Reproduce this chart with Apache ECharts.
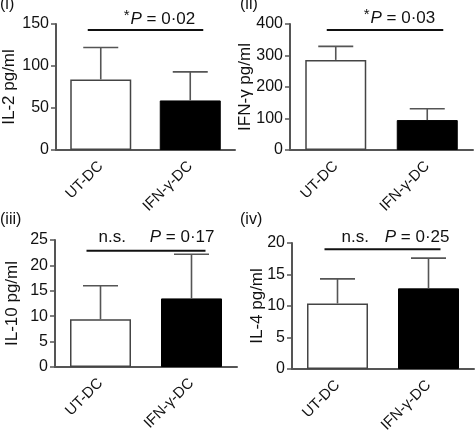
<!DOCTYPE html>
<html>
<head>
<meta charset="utf-8">
<script src="https://cdn.jsdelivr.net/npm/echarts@6/dist/echarts.min.js"></script>
<style>html,body{margin:0;padding:0;background:#fff}#c{width:475px;height:433px}</style>
</head>
<body>
<div id="c"></div>
<script>
// ---- data ----
const categories = ['UT-DC', 'IFN-γ-DC'];
const panelTags = ['(i)', '(ii)', '(iii)', '(iv)'];
const yNames = ['IL-2 pg/ml', 'IFN-γ pg/ml', 'IL-10 pg/ml', 'IL-4 pg/ml'];
const il2Means = [84, 59];
const il2Err = [38, 34];
const ifngMeans = [286, 95];
const ifngErr = [43, 36];
const il10Means = [9.4, 13.5];
const il10Err = [6.6, 8.7];
const il4Means = [10.4, 12.8];
const il4Err = [3.9, 4.8];
const yMax = [150, 400, 25, 20];
const yInterval = [50, 100, 5, 5];
const pValues = ['0·02', '0·03', '0·17', '0·25'];
const significant = [true, true, false, false];
const sigLineY = [143, 381, 22.9, 19.0];

const means = [il2Means, ifngMeans, il10Means, il4Means];
const errs = [il2Err, ifngErr, il10Err, il4Err];

// ---- layout ----
const FONT = '"Liberation Sans", Arial, Helvetica, sans-serif';
const grids = [
  {left: 56, top: 24, width: 179, height: 126},
  {left: 290, top: 24, width: 183, height: 126},
  {left: 55, top: 240, width: 182, height: 127},
  {left: 292, top: 243, width: 182, height: 126}
];
const nameGaps = [38, 36, 34, 26];
const tagPos = [[0, -3], [240, -3], [0, 212], [240, 212]];
const sigLayout = [
  {l: -13, r: 13, pRight: -8, nsLeft: 0, dy: -11},
  {l: -9, r: 16, pRight: -8, nsLeft: 0, dy: -12},
  {l: -14, r: 14, pRight: 9, nsLeft: 12, dy: -13},
  {l: -13, r: 12, pRight: 9, nsLeft: 17, dy: -12}
];
const AXIS = '#555';

const option = {
  animation: false,
  backgroundColor: '#fff',
  textStyle: {fontFamily: FONT},
  title: panelTags.map((t, i) => ({
    text: t, left: tagPos[i][0], top: tagPos[i][1], padding: 0,
    textStyle: {fontSize: 16, fontWeight: 'normal', color: '#111', fontFamily: FONT}
  })),
  grid: grids.map(g => Object.assign({containLabel: false, outerBoundsMode: 'none'}, g)),
  xAxis: grids.map((g, i) => ({
    type: 'category', gridIndex: i, data: categories,
    axisLine: {lineStyle: {color: AXIS, width: 2}},
    axisTick: {show: false},
    axisLabel: {rotate: 45, fontSize: 15, color: '#111', margin: 14, fontFamily: FONT, interval: 0}
  })),
  yAxis: grids.map((g, i) => ({
    type: 'value', gridIndex: i, min: 0, max: yMax[i], interval: yInterval[i],
    name: yNames[i], nameLocation: 'middle', nameGap: nameGaps[i], nameRotate: 90,
    nameMoveOverlap: false,
    nameTextStyle: {fontSize: 17, color: '#111', fontFamily: FONT},
    axisLine: {show: true, lineStyle: {color: AXIS, width: 2}},
    axisTick: {show: true, length: 5, lineStyle: {color: AXIS, width: 1.5}},
    axisLabel: {fontSize: 16, color: '#111', margin: 7, fontFamily: FONT},
    splitLine: {show: false}
  })),
  series: []
};

for (let i = 0; i < 4; i++) {
  option.series.push({
    type: 'bar', xAxisIndex: i, yAxisIndex: i, barWidth: 61, silent: true,
    data: [
      {value: means[i][0], itemStyle: {color: '#fff', borderColor: '#444', borderWidth: 1.5}},
      {value: means[i][1], itemStyle: {color: '#000', borderColor: '#000', borderWidth: 1}}
    ],
    z: 2
  });
  option.series.push({
    type: 'custom', xAxisIndex: i, yAxisIndex: i, silent: true, z: 3,
    data: means[i].map((m, k) => [k, m, m + errs[i][k]]),
    encode: {x: 0, y: [1, 2]},
    renderItem: function (params, api) {
      const x = api.value(0);
      const p0 = api.coord([x, api.value(1)]);
      const p1 = api.coord([x, api.value(2)]);
      const st = {stroke: '#555', lineWidth: 1.6};
      return {
        type: 'group', children: [
          {type: 'line', shape: {x1: p0[0], y1: p0[1], x2: p1[0], y2: p1[1]}, style: st},
          {type: 'line', shape: {x1: p1[0] - 17.5, y1: p1[1], x2: p1[0] + 17.5, y2: p1[1]}, style: st}
        ]
      };
    }
  });
  const lay = sigLayout[i];
  const pv = pValues[i];
  const sig = significant[i];
  option.series.push({
    type: 'custom', xAxisIndex: i, yAxisIndex: i, silent: true, z: 4,
    data: [[0, 1, sigLineY[i]]],
    encode: {x: [0, 1], y: 2},
    renderItem: function (params, api) {
      const y = api.value(2);
      const a = api.coord([0, y]);
      const b = api.coord([1, y]);
      const x1 = a[0] + lay.l, x2 = b[0] + lay.r;
      const children = [
        {type: 'line', shape: {x1: x1, y1: a[1], x2: x2, y2: a[1]}, style: {stroke: '#111', lineWidth: 2}},
        {type: 'text', x: x2 + lay.pRight, y: a[1] + lay.dy,
          style: {
            text: (sig ? '{s|*}' : '') + '{i|P}{n| = ' + pv + '}',
            align: 'right', verticalAlign: 'middle',
            rich: {
              s: {fontSize: 15, fontFamily: FONT, fill: '#111', verticalAlign: 'top', padding: [0, 1, 6, 0]},
              i: {fontSize: 17, fontFamily: FONT, fontStyle: 'italic', fill: '#111'},
              n: {fontSize: 17, fontFamily: FONT, fill: '#111'}
            }
          }}
      ];
      if (!sig) {
        children.push({type: 'text', x: x1 + lay.nsLeft, y: a[1] + lay.dy,
          style: {text: 'n.s.', align: 'left', verticalAlign: 'middle', fontSize: 17, fontFamily: FONT, fill: '#111'}});
      }
      return {type: 'group', children: children};
    }
  });
}

const chart = echarts.init(document.getElementById('c'), null, {renderer: 'canvas'});
chart.setOption(option);
</script>
</body>
</html>
